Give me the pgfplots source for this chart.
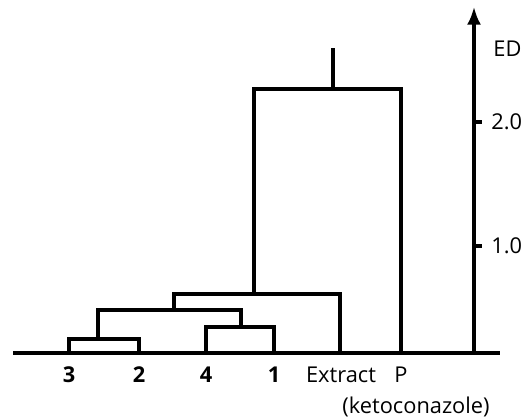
\documentclass[border=0pt]{standalone}
\usepackage{pgfplots}
\pgfplotsset{compat=1.18}
\usepackage{fontspec}
\setmainfont{Open Sans}
\usetikzlibrary{arrows.meta}
\begin{document}
\begin{tikzpicture}[dline/.style={black, solid, line width=1.7pt, mark=none},
  lab/.style={inner sep=0pt, font=\fontsize{10.9}{12}\selectfont}]
\begin{axis}[
  scale only axis, width=262pt, height=208.5pt,
  xmin=0, xmax=524, ymin=-0.379, ymax=2.984,
  hide axis, clip=false,
]
\path (axis cs:0,-0.379) rectangle (axis cs:524,2.984);
% baseline
\addplot[dline] coordinates {(13,0.137) (500,0.137)};
% 3-2
\addplot[dline] coordinates {(69,0.137) (69,0.25) (139,0.25) (139,0.137)};
% 4-1
\addplot[dline] coordinates {(206,0.137) (206,0.347) (274,0.347) (274,0.137)};
% (3,2)-(4,1)
\addplot[dline] coordinates {(98,0.25) (98,0.484) (241,0.484) (241,0.347)};
% + Extract
\addplot[dline] coordinates {(174,0.484) (174,0.613) (340,0.613) (340,0.137)};
% + P
\addplot[dline] coordinates {(254,0.613) (254,2.266) (401,2.266) (401,0.137)};
% top stub
\addplot[dline] coordinates {(333,2.266) (333,2.597)};
% right axis
\addplot[dline, line width=2.1pt, -{Latex[length=9pt,width=7pt]}] coordinates {(474,0.137) (474,2.93)};
\addplot[dline, line width=2.1pt] coordinates {(474,1) (482,1)};
\addplot[dline, line width=2.1pt] coordinates {(474,2) (482,2)};
% labels
\node[lab, anchor=west] at (axis cs:491,1) {1.0};
\node[lab, anchor=west] at (axis cs:491,2) {2.0};
\node[lab, anchor=west] at (axis cs:493,2.59) {ED};
\node[lab, font=\fontsize{10.9}{12}\selectfont\bfseries] at (axis cs:69,-0.04) {3};
\node[lab, font=\fontsize{10.9}{12}\selectfont\bfseries] at (axis cs:139,-0.04) {2};
\node[lab, font=\fontsize{10.9}{12}\selectfont\bfseries] at (axis cs:206,-0.04) {4};
\node[lab, font=\fontsize{10.9}{12}\selectfont\bfseries] at (axis cs:274,-0.04) {1};
\node[lab] at (axis cs:341,-0.04) {Extract};
\node[lab] at (axis cs:401,-0.04) {P};
\node[lab] at (axis cs:416,-0.30) {(ketoconazole)};
\end{axis}
\end{tikzpicture}
\end{document}
